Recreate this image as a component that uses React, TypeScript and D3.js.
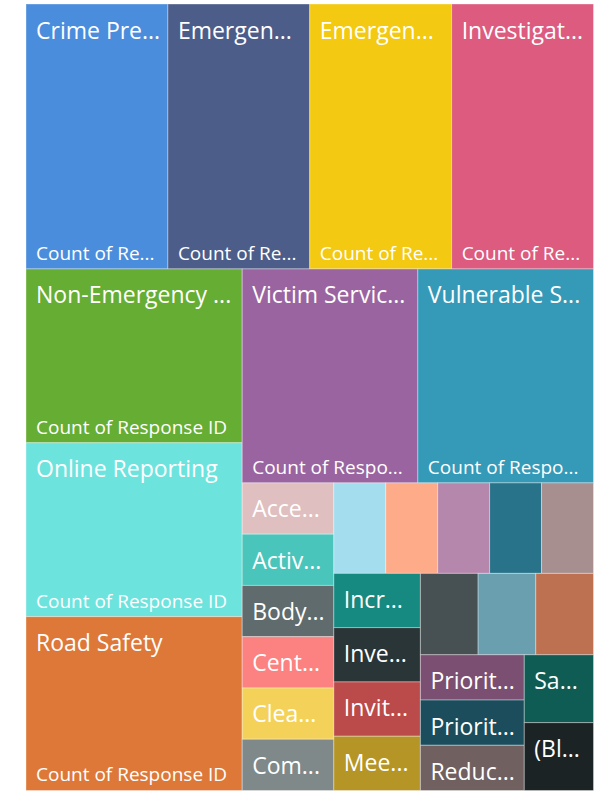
import React, { useMemo } from "react";
import * as d3 from "d3";

// Category labels as displayed (Power BI truncates them)
const categories: string[] = [
  "Crime Pre...", "Emergen...", "Emergen...", "Investigat...",
  "Non-Emergency ...", "Online Reporting", "Road Safety",
  "Victim Servic...", "Vulnerable S...",
  "Acce...", "Activ...", "Body...", "Cent...", "Clea...", "Com...",
  "", "", "", "", "",
  "Incr...", "Inve...", "Invit...", "Mee...",
  "", "", "",
  "Priorit...", "Priorit...", "Reduc...",
  "Sa...", "(Bl...",
];

const counts: number[] = [
  8, 8, 8, 8,
  8, 8, 8,
  8, 8,
  1, 1, 1, 1, 1, 1,
  1, 1, 1, 1, 1,
  1, 1, 1, 1,
  1, 1, 1,
  1, 1, 1,
  1, 1,
];

const colors: string[] = [
  "#4A8DDC", "#4C5D8A", "#F3C911", "#DC5B7F",
  "#66AD33", "#6DE3DE", "#DD7838",
  "#9A64A0", "#3599B8",
  "#DFBFBF", "#4AC5BB", "#5F6B6D", "#FB8281", "#F4D25A", "#7F898A",
  "#A4DDEE", "#FDAB89", "#B687AC", "#28738A", "#A78F8F",
  "#168980", "#293537", "#BB4A4A", "#B59525",
  "#475052", "#6A9FB0", "#BD7150",
  "#7B4F71", "#1B4D5C", "#706060",
  "#0F5C55", "#1C2325",
];

const measureLabel = "Count of Response ID";

const FONT = "'Open Sans', 'Segoe UI', sans-serif";
const CAT_SIZE = 23;
const VAL_SIZE = 19;
const PAD = 10;

let ctx: CanvasRenderingContext2D | null = null;
function textWidth(t: string, size: number): number {
  if (!ctx) ctx = document.createElement("canvas").getContext("2d");
  if (!ctx) return t.length * size * 0.55;
  ctx.font = `${size}px 'Open Sans'`;
  return ctx.measureText(t).width;
}
function truncate(t: string, size: number, avail: number): string {
  if (textWidth(t, size) <= avail) return t;
  let s = t;
  while (s.length > 0 && textWidth(s + "...", size) > avail) s = s.slice(0, -1);
  return s + "...";
}

const W = 599;
const H = 791;
const X0 = 26;
const Y0 = 4;
const X1 = 593.5;
const Y1 = 790.5;

export default function App() {
  const leaves = useMemo(() => {
    const data = {
      name: "root",
      children: categories.map((c, i) => ({ name: c, value: counts[i], color: colors[i], idx: i })),
    };
    const root = d3
      .hierarchy<any>(data)
      .sum((d: any) => d.value || 0);
    d3.treemap<any>().tile(d3.treemapSquarify).size([X1 - X0, Y1 - Y0]).round(false)(root);
    return root.leaves() as any[];
  }, []);

  return (
    <svg
      width={W}
      height={H}
      style={{ position: "absolute", left: 0, top: 0, background: "#fff" }}
      fontFamily={FONT}
    >
      <g transform={`translate(${X0},${Y0})`}>
        {leaves.map((l: any) => {
          const w = l.x1 - l.x0;
          const h = l.y1 - l.y0;
          const avail = w - 2 * PAD;
          return (
            <g key={l.data.idx} transform={`translate(${l.x0},${l.y0})`}>
              <rect
                width={w}
                height={h}
                fill={l.data.color}
                stroke="rgba(255,255,255,0.35)"
                strokeWidth={1}
              />
              {l.data.name && (
                <text x={PAD} y={34.5} fill="#fff" fontSize={CAT_SIZE}>
                  {l.data.name}
                </text>
              )}
              {h > 100 && (
                <text x={PAD} y={h - 9} fill="#fff" fontSize={VAL_SIZE}>
                  {truncate(measureLabel, VAL_SIZE, avail)}
                </text>
              )}
            </g>
          );
        })}
      </g>
    </svg>
  );
}
